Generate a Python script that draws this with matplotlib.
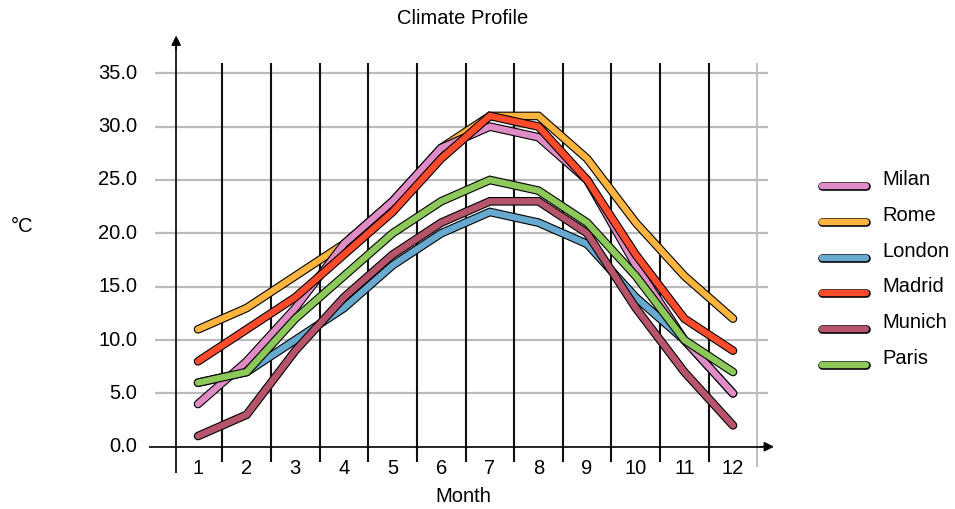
import matplotlib
matplotlib.use("Agg")
import matplotlib.pyplot as plt
import matplotlib.patheffects as pe
from matplotlib.lines import Line2D

plt.rcParams['font.family'] = ['Liberation Sans', 'DejaVu Sans']

months = list(range(1, 13))
month_labels = [str(m) for m in months]
cities = ["Milan", "Rome", "London", "Madrid", "Munich", "Paris"]
milan = [4, 8, 13, 19, 23, 28, 30, 29, 25, 17, 10, 5]
rome = [11, 13, 16, 19, 23, 28, 31, 31, 27, 21, 16, 12]
london = [6, 7, 10, 13, 17, 20, 22, 21, 19, 14, 10, 5]
madrid = [8, 11, 14, 18, 22, 27, 31, 30, 25, 18, 12, 9]
munich = [1, 3, 9, 14, 18, 21, 23, 23, 20, 13, 7, 2]
paris = [6, 7, 12, 16, 20, 23, 25, 24, 21, 16, 10, 7]
series = [milan, rome, london, madrid, munich, paris]
colors = ["#DF8BC6", "#FDB43E", "#67A9CF", "#FF4B2B", "#B5546A", "#8CC85A"]
zorders = [4, 2, 3, 5, 6, 7]
yticks = [0, 5, 10, 15, 20, 25, 30, 35]

W, H = 955, 509
fig = plt.figure(figsize=(W / 100, H / 100), dpi=100)

# axes placement in pixels (x: month 0 -> 149.4px, 12.9 -> 776.8px)
x0_px, x1_px = 149.4, 776.8
y_top_px, y_bot_px = 32.7, 473.4
ax = fig.add_axes([x0_px / W, 1 - y_bot_px / H, (x1_px - x0_px) / W, (y_bot_px - y_top_px) / H])
ax.set_xlim(0, 12.9)
ax.set_ylim(-2.5, 38.8)
ax.axis('off')

# horizontal gray grid
for v in yticks[1:]:
    ax.plot([0.12, 12.72], [v, v], color="#BBBBBB", lw=1.6, zorder=0, solid_capstyle='butt')
    ax.text(-0.25, v, f"{v:.1f}", ha='right', va='center', fontsize=14.5, clip_on=False)
ax.text(-0.25, 0, "0.0", ha='right', va='center', fontsize=14.5, clip_on=False)

# vertical separators
for m in months[:-1]:
    ax.plot([m + 0.5, m + 0.5], [-1.45, 36], color="#111111", lw=1.5, zorder=1, solid_capstyle='butt')
ax.plot([12.5, 12.5], [-1.9, 36], color="#BBBBBB", lw=1.3, zorder=1, solid_capstyle='butt')

# axes with arrows
ax.plot([0.55, 0.55], [-2.6, 37.5], color="black", lw=1.2, zorder=1)
ax.annotate("", xy=(0.55, 38.8), xytext=(0.55, 37.0),
            arrowprops=dict(arrowstyle="-|>", color="black", lw=1.2, mutation_scale=14))
ax.plot([0.0, 12.6], [0, 0], color="black", lw=1.2, zorder=1)
ax.annotate("", xy=(12.9, 0), xytext=(12.5, 0),
            arrowprops=dict(arrowstyle="-|>", color="black", lw=1.2, mutation_scale=14))

# month labels
for m, lab in zip(months, month_labels):
    ax.text(m, -2.05, lab, ha='center', va='center', fontsize=14.5, clip_on=False)

# series
effects = [pe.Stroke(linewidth=6.2, foreground='black'), pe.Normal()]
for name, vals, c, z in zip(cities, series, colors, zorders):
    ax.plot(months, vals, color=c, lw=4.6, solid_capstyle='round', solid_joinstyle='miter',
            path_effects=effects, zorder=z, label=name)

# labels
fig.text(463 / W, 1 - 18 / H, "Climate Profile", ha='center', va='center', fontsize=14.5)
fig.text(463 / W, 1 - 497 / H, "Month", ha='center', va='center', fontsize=14.5)
fig.text(22 / W, 1 - 227 / H, "°C", ha='center', va='center', fontsize=14.5)

# legend (manual)
for i, (name, c) in enumerate(zip(cities, colors)):
    yh = 186 + i * 35.8
    ln = Line2D([822 / W, 866 / W], [1 - yh / H, 1 - yh / H], transform=fig.transFigure,
                color=c, lw=4.6, solid_capstyle='round', path_effects=effects)
    fig.add_artist(ln)
    fig.text(882 / W, 1 - (yh - 6.5) / H, name, ha='left', va='center', fontsize=14.5)

fig.savefig("out.png", dpi=100)
